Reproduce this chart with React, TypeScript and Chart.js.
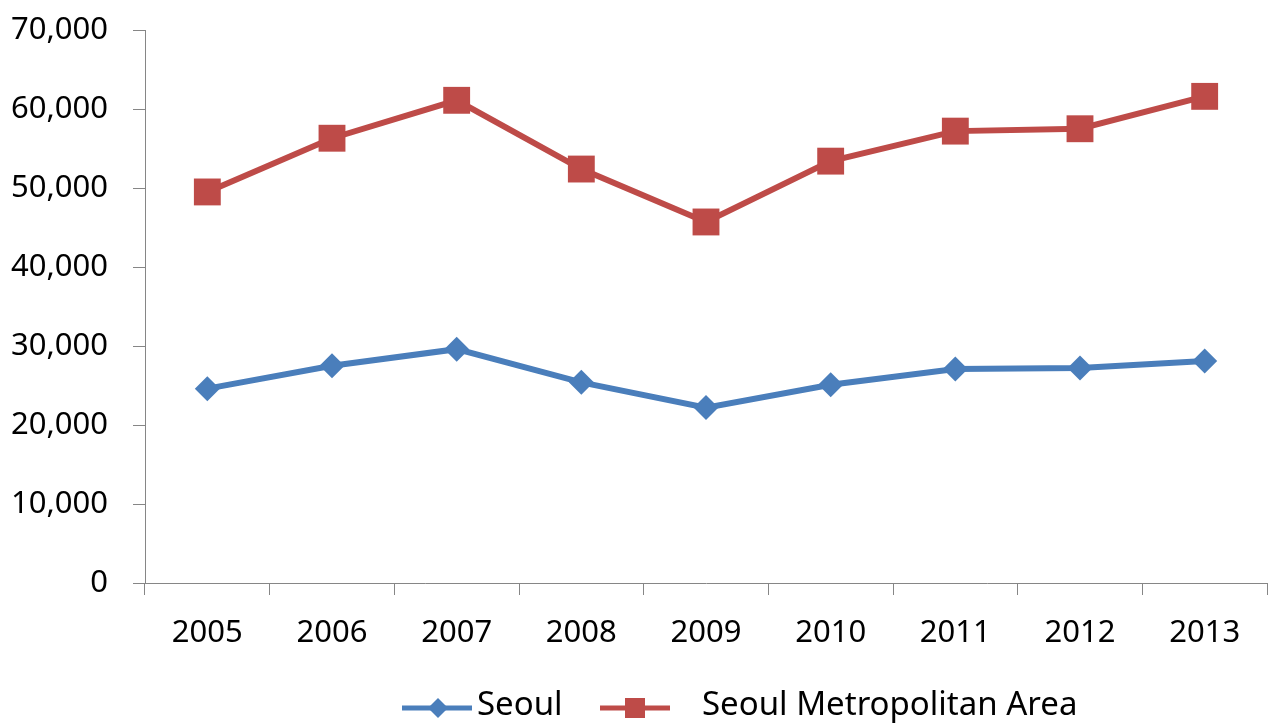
import React, { useEffect, useRef } from "react";
import { Chart, registerables } from "chart.js";

Chart.register(...registerables);

const years = ["2005", "2006", "2007", "2008", "2009", "2010", "2011", "2012", "2013"];
const seoul = [24600, 27500, 29600, 25400, 22200, 25100, 27100, 27200, 28100];
const metro = [49500, 56300, 61100, 52400, 45700, 53400, 57200, 57500, 61600];
const seriesNames = ["Seoul", "Seoul Metropolitan Area"];
const yTicks = [0, 10000, 20000, 30000, 40000, 50000, 60000, 70000];

const BLUE = "#4a7ebb";
const RED = "#be4b48";
const AXIS = "#868686";
const FONT = "'Noto Sans', sans-serif";

const legendPlugin = {
  id: "customLegend",
  afterDraw(chart: any) {
    const ctx = chart.ctx;
    const cx = chart.width / 2;
    const y = 708;
    ctx.save();
    ctx.font = `33px ${FONT}`;
    ctx.textBaseline = "middle";
    // item 1
    let x0 = cx - 232;
    ctx.strokeStyle = BLUE;
    ctx.lineWidth = 5;
    ctx.beginPath();
    ctx.moveTo(x0, y);
    ctx.lineTo(x0 + 70, y);
    ctx.stroke();
    ctx.fillStyle = BLUE;
    const dx = x0 + 36;
    const r = 10;
    ctx.beginPath();
    ctx.moveTo(dx - r, y);
    ctx.lineTo(dx, y - r);
    ctx.lineTo(dx + r, y);
    ctx.lineTo(dx, y + r);
    ctx.closePath();
    ctx.fill();
    ctx.fillStyle = "#000";
    ctx.fillText(seriesNames[0], x0 + 75, y - 2);
    // item 2
    x0 = cx - 34;
    ctx.strokeStyle = RED;
    ctx.beginPath();
    ctx.moveTo(x0, y);
    ctx.lineTo(x0 + 70, y);
    ctx.stroke();
    ctx.fillStyle = RED;
    const sx = x0 + 35;
    const h = 10;
    ctx.fillRect(sx - h, y - h, 2 * h, 2 * h);
    ctx.fillStyle = "#000";
    ctx.fillText(seriesNames[1], x0 + 102, y - 2);
    ctx.restore();
  },
};

export default function App() {
  const ref = useRef<HTMLCanvasElement>(null);
  useEffect(() => {
    document.body.style.margin = "0";
    const chart = new Chart(ref.current!, {
      type: "line",
      data: {
        labels: years,
        datasets: [
          {
            label: seriesNames[0],
            data: seoul,
            borderColor: BLUE,
            backgroundColor: BLUE,
            borderWidth: 6,
            pointStyle: "rectRot",
            pointRadius: 12.5,
            pointBorderWidth: 0,
            tension: 0,
          },
          {
            label: seriesNames[1],
            data: metro,
            borderColor: RED,
            backgroundColor: RED,
            borderWidth: 6,
            pointStyle: "rect",
            pointRadius: 19,
            pointBorderWidth: 0,
            tension: 0,
          },
        ],
      },
      options: {
        animation: false,
        responsive: false,
        events: [],
        layout: { autoPadding: false, padding: { top: 30, right: 1, left: 0, bottom: 0 } },
        plugins: { legend: { display: false }, tooltip: { enabled: false } },
        scales: {
          x: {
            offset: true,
            grid: {
              offset: true,
              drawOnChartArea: false,
              drawTicks: true,
              tickLength: 12,
              tickColor: AXIS,
              color: AXIS,
            },
            border: { color: AXIS, width: 1 },
            ticks: { color: "#000", font: { family: FONT, size: 31 }, padding: 20, maxRotation: 0 },
            afterFit(scale: any) {
              scale.height = 143;
              scale.paddingLeft = 0;
              scale.paddingRight = 0;
            },
          },
          y: {
            min: 0,
            max: 70000,
            grid: {
              drawOnChartArea: false,
              drawTicks: true,
              tickLength: 12,
              tickColor: AXIS,
              color: AXIS,
            },
            border: { color: AXIS, width: 1 },
            afterBuildTicks(scale: any) {
              scale.ticks = yTicks.map((v) => ({ value: v }));
            },
            ticks: {
              color: "#000",
              font: { family: FONT, size: 31 },
              padding: 25,
              callback: (v: any) => Number(v).toLocaleString("en-US"),
            },
            afterFit(scale: any) {
              scale.width = 145;
              scale.paddingTop = 0;
              scale.paddingBottom = 0;
            },
          },
        },
      },
      plugins: [legendPlugin],
    });
    return () => chart.destroy();
  }, []);
  return (
    <div style={{ width: 1268, height: 726, background: "#fff" }}>
      <canvas ref={ref} width={1268} height={726} />
    </div>
  );
}
